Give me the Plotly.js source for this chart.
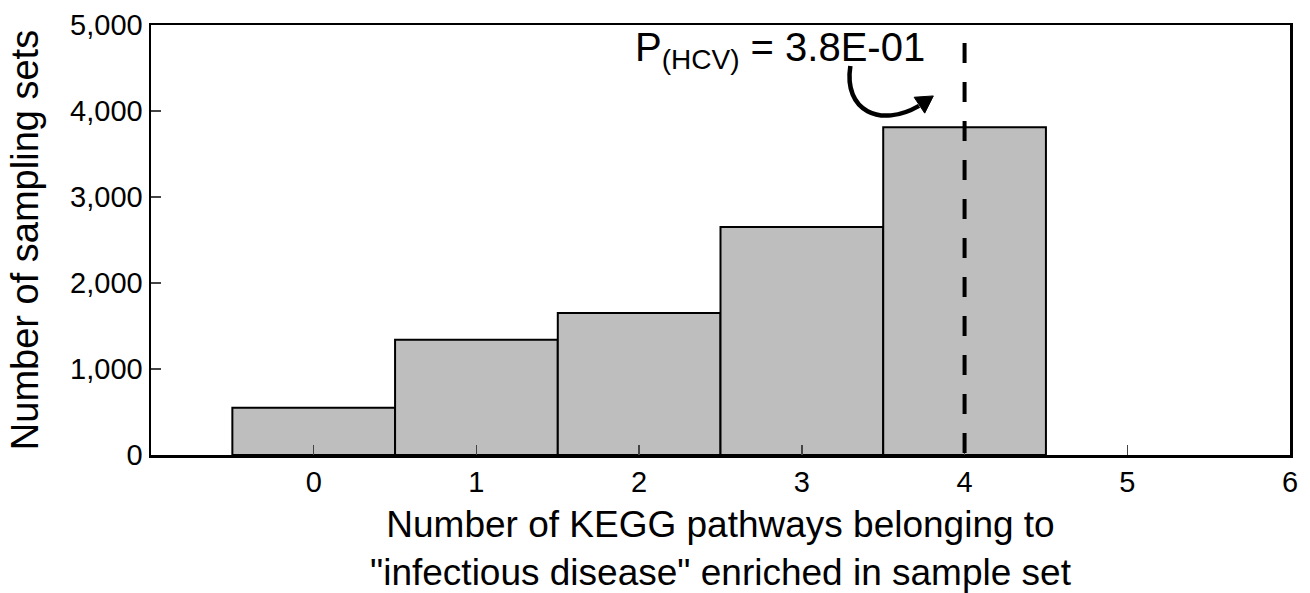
<!DOCTYPE html>
<html>
<head>
<meta charset="utf-8">
<script src="https://cdn.plot.ly/plotly-3.0.1.min.js"></script>
<style>
  html, body { margin: 0; padding: 0; background: #ffffff; }
  #chart { width: 1310px; height: 593px; }
</style>
</head>
<body>
<div id="chart"></div>
<script>
// ---- Data ----
const categories = [0, 1, 2, 3, 4];
const counts = [550, 1340, 1650, 2650, 3810];
const xTickVals = [0, 1, 2, 3, 4, 5, 6];
const xTickLabels = ["0", "1", "2", "3", "4", "5", "6"];
const yTickVals = [0, 1000, 2000, 3000, 4000, 5000];
const observedValue = 4;
const pValueLabel = "P<sub>(HCV)</sub> = 3.8E-01";
const xTitle = "Number of KEGG pathways belonging to<br>\"infectious disease\" enriched in sample set";
const yTitle = "Number of sampling sets";

const FONT = "Liberation Sans, Arial, Helvetica, sans-serif";

const trace = {
  type: "bar",
  x: categories,
  y: counts,
  width: 1,
  marker: { color: "#bebebe", line: { color: "#000000", width: 2 } },
  hoverinfo: "x+y",
  showlegend: false
};

const layout = {
  width: 1310,
  height: 593,
  margin: { l: 151, r: 20, t: 25, b: 138 },
  paper_bgcolor: "#ffffff",
  plot_bgcolor: "#ffffff",
  font: { family: FONT, color: "#000000" },
  showlegend: false,
  bargap: 0,
  xaxis: {
    range: [-1, 6],
    tickvals: xTickVals,
    ticktext: xTickLabels,
    ticks: "inside",
    ticklen: 10,
    tickwidth: 1.5,
    tickcolor: "#444444",
    tickfont: { family: FONT, size: 29, color: "#000000" },
    showline: true,
    linecolor: "#000000",
    linewidth: 2.5,
    mirror: true,
    showgrid: false,
    zeroline: false,
    title: { text: xTitle, font: { family: FONT, size: 37, color: "#000000" }, standoff: 22 }
  },
  yaxis: {
    range: [0, 5000],
    tickvals: yTickVals,
    tickformat: ",d",
    ticks: "inside",
    ticklen: 10,
    tickwidth: 1.5,
    tickcolor: "#444444",
    tickfont: { family: FONT, size: 29, color: "#000000" },
    showline: true,
    linecolor: "#000000",
    linewidth: 2.5,
    mirror: true,
    showgrid: false,
    zeroline: false,
    title: { text: yTitle, font: { family: FONT, size: 38, color: "#000000" }, standoff: 20 }
  },
  shapes: [
    {
      type: "line",
      xref: "x", yref: "y",
      x0: observedValue, x1: observedValue,
      y0: 4790, y1: 0,
      line: { color: "#000000", width: 4, dash: "20px,19px" },
      layer: "above"
    },
    {
      type: "path",
      xref: "x", yref: "y",
      path: "M 3.298 4523 C 3.255 4000, 3.482 3800, 3.720 4060",
      line: { color: "#000000", width: 4.5 },
      layer: "above"
    },
    {
      type: "path",
      xref: "x", yref: "y",
      path: "M 3.808 4175 L 3.690 4160 L 3.755 3975 Z",
      fillcolor: "#000000",
      line: { color: "#000000", width: 1 },
      layer: "above"
    }
  ],
  annotations: [
    {
      text: pValueLabel,
      xref: "x", yref: "y",
      x: 1.965, y: 4710,
      xanchor: "left", yanchor: "middle",
      showarrow: false,
      font: { family: FONT, size: 40, color: "#000000" }
    }
  ]
};

Plotly.newPlot("chart", [trace], layout, { displayModeBar: false, staticPlot: true });
</script>
</body>
</html>
